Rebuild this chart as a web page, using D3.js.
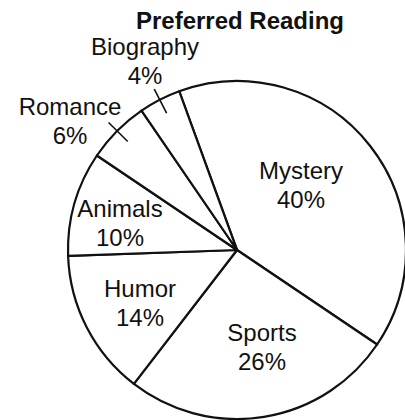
<!DOCTYPE html>
<html><head><meta charset="utf-8">
<script src="https://cdn.jsdelivr.net/npm/d3@7"></script>
<style>body{margin:0;background:#fff}svg{display:block}text{font-family:"Liberation Sans",Arial,sans-serif;fill:#111}</style>
</head><body>
<svg id="c" width="405" height="420"></svg>
<script>
const categories = ["Mystery","Sports","Humor","Animals","Romance","Biography"];
const values = [40,26,14,10,6,4];
const labels = ["40%","26%","14%","10%","6%","4%"];
const title = "Preferred Reading";

const svg = d3.select("#c");
const cx = 237, cy = 250, R = 169;
const g = svg.append("g").attr("transform",`translate(${cx},${cy})`);
const start = -20 * Math.PI/180;
const pie = d3.pie().sort(null).value(d=>d.v).startAngle(start).endAngle(start+2*Math.PI);
const data = pie(categories.map((c,i)=>({c, v:values[i], l:labels[i]})));
const arc = d3.arc().innerRadius(0).outerRadius(R);
g.selectAll("path").data(data).enter().append("path")
  .attr("d",arc).attr("fill","#fff").attr("stroke","#111").attr("stroke-width",2.2).attr("stroke-linejoin","round");

// label layout offsets from the centre (x, first baseline)
const pos = {Mystery:[64,-71], Sports:[25,91], Humor:[-97,47], Animals:[-117,-33], Romance:[-167,-135], Biography:[-92,-195]};
const outsideLabels = ["Romance","Biography"];
data.forEach(d=>{
  const mid = (d.startAngle+d.endAngle)/2;
  const [x,y] = pos[d.data.c];
  if (outsideLabels.includes(d.data.c)) {
    g.append("line")
      .attr("x1",Math.sin(mid)*(R-15)).attr("y1",-Math.cos(mid)*(R-15))
      .attr("x2",Math.sin(mid)*(R+12)).attr("y2",-Math.cos(mid)*(R+12))
      .attr("stroke","#111").attr("stroke-width",1.6);
  }
  const t = g.append("text").attr("text-anchor","middle").attr("font-size",24);
  t.append("tspan").attr("x",x).attr("y",y).text(d.data.c);
  t.append("tspan").attr("x",x).attr("y",y+29).text(d.data.l);
});

svg.append("text").attr("x",240).attr("y",29).attr("text-anchor","middle")
  .attr("font-size",24).attr("font-weight","bold").text(title);
</script>
</body></html>
